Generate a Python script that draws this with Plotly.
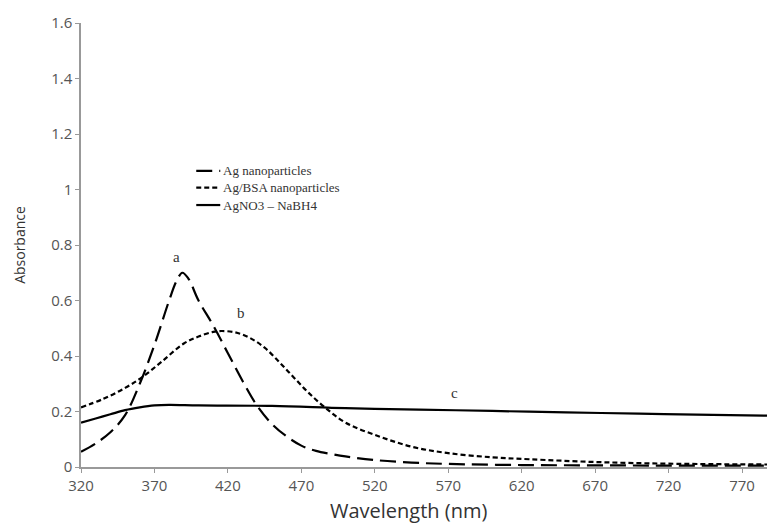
import plotly.graph_objects as go

wl_a = [320, 330, 340, 350, 360, 370, 380, 385, 389, 393, 400, 410, 420, 430, 440, 450, 460, 470, 480, 490, 500, 520, 545, 570, 620, 670, 720, 787]
abs_a = [0.055, 0.085, 0.125, 0.187, 0.30, 0.44, 0.60, 0.67, 0.70, 0.68, 0.60, 0.51, 0.41, 0.31, 0.22, 0.155, 0.11, 0.077, 0.058, 0.047, 0.038, 0.025, 0.016, 0.011, 0.007, 0.006, 0.005, 0.005]

wl_b = [320, 335, 350, 362, 375, 390, 400, 410, 416, 425, 435, 445, 455, 465, 475, 486, 500, 523, 546, 570, 600, 625, 670, 720, 787]
abs_b = [0.215, 0.245, 0.285, 0.325, 0.38, 0.445, 0.47, 0.487, 0.49, 0.485, 0.465, 0.43, 0.378, 0.322, 0.267, 0.215, 0.16, 0.11, 0.072, 0.05, 0.035, 0.028, 0.018, 0.012, 0.009]

wl_c = [320, 330, 340, 350, 360, 370, 380, 400, 450, 500, 550, 600, 650, 700, 750, 787]
abs_c = [0.16, 0.175, 0.19, 0.205, 0.215, 0.222, 0.224, 0.222, 0.22, 0.212, 0.207, 0.202, 0.197, 0.192, 0.188, 0.185]

names = ["Ag nanoparticles", "Ag/BSA nanoparticles", "AgNO3 \u2013 NaBH4"]
curve_labels = ["a", "b", "c"]
x_ticks = [320, 370, 420, 470, 520, 570, 620, 670, 720, 770]
y_ticks = [0, 0.2, 0.4, 0.6, 0.8, 1, 1.2, 1.4, 1.6]
y_ticklabels = ["0", "0.2", "0.4", "0.6", "0.8", "1", "1.2", "1.4", "1.6"]

dashes = ["16px,7px", "5px,3px", "solid"]
series = [(wl_a, abs_a), (wl_b, abs_b), (wl_c, abs_c)]

fig = go.Figure()
for (xs, ys), nm, dsh in zip(series, names, dashes):
    fig.add_trace(go.Scatter(x=xs, y=ys, mode="lines", name=nm, showlegend=False,
                             line=dict(color="black", width=2.2, dash=dsh, shape="spline", smoothing=1)))

# curve letter labels
for txt, xx, yy in zip(curve_labels, [385, 429, 574], [0.755, 0.555, 0.268]):
    fig.add_annotation(x=xx, y=yy, text=txt, showarrow=False,
                       font=dict(family="Liberation Serif", size=15, color="#333"))

# manual legend (compact, like the original)
leg_rows = [0.667, 0.629, 0.590]
for nm, dsh, yy in zip(names, dashes, leg_rows):
    fig.add_shape(type="line", xref="paper", yref="paper", x0=0.168, x1=0.203, y0=yy, y1=yy,
                  line=dict(color="black", width=2.2, dash=dsh))
    fig.add_annotation(xref="paper", yref="paper", x=0.206, y=yy, text=nm, showarrow=False,
                       xanchor="left", yanchor="middle", borderpad=0,
                       font=dict(family="Liberation Serif", size=13, color="#333"))

# x axis title (slightly left of centre as in original)
fig.add_annotation(xref="paper", yref="paper", x=0.477, y=-0.099, text="Wavelength (nm)",
                   showarrow=False, xanchor="center", yanchor="middle",
                   font=dict(family="Open Sans", size=20, color="#333"))

fig.update_layout(
    width=767, height=525,
    margin=dict(l=81, r=0, t=23, b=58),
    plot_bgcolor="white", paper_bgcolor="white",
    showlegend=False,
    xaxis=dict(range=[320, 787], tickvals=x_ticks, showline=True, linecolor="#999", linewidth=1.5,
               ticks="outside", ticklen=4, tickcolor="#999", showgrid=False, zeroline=False,
               tickfont=dict(family="Open Sans", size=15, color="#555")),
    yaxis=dict(range=[0, 1.6], tickvals=y_ticks, ticktext=y_ticklabels, showline=True, linecolor="#999", linewidth=1.5,
               ticks="outside", ticklen=4, tickcolor="#999", showgrid=False, zeroline=False,
               tickfont=dict(family="Open Sans", size=15, color="#555"),
               title=dict(text="Absorbance", font=dict(family="Open Sans", size=14, color="#333"), standoff=22)),
)

fig.write_html("out.html")
